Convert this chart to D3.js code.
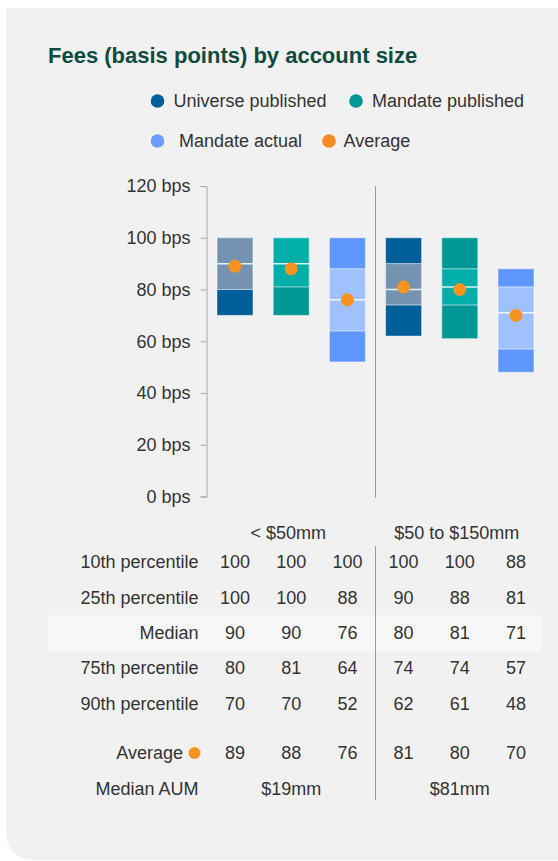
<!DOCTYPE html>
<html>
<head>
<meta charset="utf-8">
<script src="https://cdn.jsdelivr.net/npm/d3@7"></script>
<style>
  html, body { margin: 0; padding: 0; background: #ffffff; }
  svg { display: block; font-family: "Liberation Sans", Arial, sans-serif; }
</style>
</head>
<body>
<div id="chart"></div>
<script>
// Fees (basis points) by account size
const groups = ['< $50mm', '$50 to $150mm'];
const series = ['Universe published', 'Mandate published', 'Mandate actual'];
const p10 = [100, 100, 100, 100, 100, 88];
const p25 = [100, 100, 88, 90, 88, 81];
const median = [90, 90, 76, 80, 81, 71];
const p75 = [80, 81, 64, 74, 74, 57];
const p90 = [70, 70, 52, 62, 61, 48];
const average = [89, 88, 76, 81, 80, 70];
const medianAum = ['$19mm', '$81mm'];
const yTicks = [0, 20, 40, 60, 80, 100, 120];
const rowLabels = ['10th percentile', '25th percentile', 'Median', '75th percentile', '90th percentile'];

const width = 558;
const height = 861;

const darkColors = ['#005f99', '#009894', '#6097ff'];
const lightColors = ['#7393b0', '#00afaa', '#a0c1ff'];
const orange = '#f7931e';
const textColor = '#333333';
const fontSize = '18px';

const svg = d3.select('#chart')
  .append('svg')
  .attr('width', width)
  .attr('height', height);

// card background
const r = 30;
svg.append('path')
  .attr('d', `M6,8H${width}V860H${6 + r}Q6,860 6,${860 - r}Z`)
  .attr('fill', '#f1f1f1');

// title
svg.append('text')
  .attr('x', 48)
  .attr('y', 63)
  .attr('fill', '#0f4c3f')
  .style('font-size', '22px')
  .style('font-weight', 'bold')
  .text('Fees (basis points) by account size');

// legend
const legendItems = [
  { label: series[0], color: darkColors[0], cx: 157.5, tx: 173.5, cy: 101 },
  { label: series[1], color: darkColors[1], cx: 356, tx: 372, cy: 101 },
  { label: series[2], color: '#6b9dff', cx: 157.5, tx: 179, cy: 141 },
  { label: 'Average', color: '#f6891f', cx: 329, tx: 343.5, cy: 141 }
];
const legend = svg.append('g').attr('class', 'legend');
legendItems.forEach(item => {
  legend.append('circle')
    .attr('cx', item.cx)
    .attr('cy', item.cy)
    .attr('r', 6.8)
    .attr('fill', item.color);
  legend.append('text')
    .attr('x', item.tx)
    .attr('y', item.cy)
    .attr('dy', '0.35em')
    .attr('fill', textColor)
    .style('font-size', fontSize)
    .text(item.label);
});

// scales
const cols = d3.range(p10.length);
const x = d3.scalePoint()
  .domain(cols)
  .range([235, 516]);
const y = d3.scaleLinear()
  .domain([0, 120])
  .range([496.5, 186]);
const barW = 36;

// y axis
const yAxis = svg.append('g')
  .attr('transform', 'translate(206.5,0)')
  .call(d3.axisLeft(y)
    .tickValues(yTicks)
    .tickSize(6)
    .tickPadding(10)
    .tickFormat(d => d + ' bps'));
yAxis.select('.domain').attr('stroke', '#a8a8a8');
yAxis.selectAll('.tick line').attr('stroke', '#a8a8a8');
yAxis.selectAll('.tick text')
  .attr('fill', textColor)
  .style('font-size', fontSize)
  .style('font-family', '"Liberation Sans", Arial, sans-serif');

// separator between groups
const sepX = (x(2) + x(3)) / 2;
svg.append('line')
  .attr('x1', sepX).attr('x2', sepX)
  .attr('y1', y(120)).attr('y2', y(0) + 1)
  .attr('stroke', '#9a9a9a')
  .attr('stroke-width', 1);

// bars
const bars = svg.append('g').attr('class', 'bars');
cols.forEach(i => {
  const s = i % 3;
  const g = bars.append('g');
  g.append('rect')
    .attr('x', x(i) - barW / 2)
    .attr('y', y(p10[i]))
    .attr('width', barW)
    .attr('height', y(p90[i]) - y(p10[i]))
    .attr('fill', darkColors[s])
    .attr('stroke', 'rgba(255,255,255,0.45)')
    .attr('stroke-width', 1);
  g.append('rect')
    .attr('x', x(i) - barW / 2)
    .attr('y', y(p25[i]))
    .attr('width', barW)
    .attr('height', y(p75[i]) - y(p25[i]))
    .attr('fill', lightColors[s])
    .attr('stroke', 'rgba(255,255,255,0.6)')
    .attr('stroke-width', 1);
  g.append('line')
    .attr('x1', x(i) - barW / 2)
    .attr('x2', x(i) + barW / 2)
    .attr('y1', y(median[i]))
    .attr('y2', y(median[i]))
    .attr('stroke', 'rgba(255,255,255,0.85)')
    .attr('stroke-width', 1.5);
  g.append('circle')
    .attr('cx', x(i))
    .attr('cy', y(average[i]))
    .attr('r', 6.5)
    .attr('fill', orange);
});

// table
const table = svg.append('g').attr('class', 'table');
const rowY = [562, 597.5, 633, 668, 704];
const avgY = 753;
const aumY = 789;
const labelX = 198.5;

// median highlight band
table.append('rect')
  .attr('x', 49.5)
  .attr('y', 616)
  .attr('width', 491)
  .attr('height', 34.5)
  .attr('fill', '#f7f7f7')
  .attr('stroke', '#fbfbfb')
  .attr('stroke-width', 1);

table.append('line')
  .attr('x1', sepX).attr('x2', sepX)
  .attr('y1', 546).attr('y2', 800)
  .attr('stroke', '#9a9a9a')
  .attr('stroke-width', 1);

// group headers
groups.forEach((gName, gi) => {
  table.append('text')
    .attr('x', x(gi * 3 + 1) - 3)
    .attr('y', 533)
    .attr('dy', '0.35em')
    .attr('text-anchor', 'middle')
    .attr('fill', textColor)
    .style('font-size', fontSize)
    .text(gName);
});

const rowsData = [p10, p25, median, p75, p90];
rowsData.forEach((vals, ri) => {
  table.append('text')
    .attr('x', labelX)
    .attr('y', rowY[ri])
    .attr('dy', '0.35em')
    .attr('text-anchor', 'end')
    .attr('fill', textColor)
    .style('font-size', fontSize)
    .text(rowLabels[ri]);
  vals.forEach((v, i) => {
    table.append('text')
      .attr('x', x(i))
      .attr('y', rowY[ri])
      .attr('dy', '0.35em')
      .attr('text-anchor', 'middle')
      .attr('fill', textColor)
      .style('font-size', fontSize)
      .text(v);
  });
});

// average row
table.append('text')
  .attr('x', 183)
  .attr('y', avgY)
  .attr('dy', '0.35em')
  .attr('text-anchor', 'end')
  .attr('fill', textColor)
  .style('font-size', fontSize)
  .text('Average');
table.append('circle')
  .attr('cx', 194.5)
  .attr('cy', avgY)
  .attr('r', 6)
  .attr('fill', orange);
average.forEach((v, i) => {
  table.append('text')
    .attr('x', x(i))
    .attr('y', avgY)
    .attr('dy', '0.35em')
    .attr('text-anchor', 'middle')
    .attr('fill', textColor)
    .style('font-size', fontSize)
    .text(v);
});

// median AUM row
table.append('text')
  .attr('x', labelX)
  .attr('y', aumY)
  .attr('dy', '0.35em')
  .attr('text-anchor', 'end')
  .attr('fill', textColor)
  .style('font-size', fontSize)
  .text('Median AUM');
medianAum.forEach((v, gi) => {
  table.append('text')
    .attr('x', x(gi * 3 + 1))
    .attr('y', aumY)
    .attr('dy', '0.35em')
    .attr('text-anchor', 'middle')
    .attr('fill', textColor)
    .style('font-size', fontSize)
    .text(v);
});
</script>
</body>
</html>
